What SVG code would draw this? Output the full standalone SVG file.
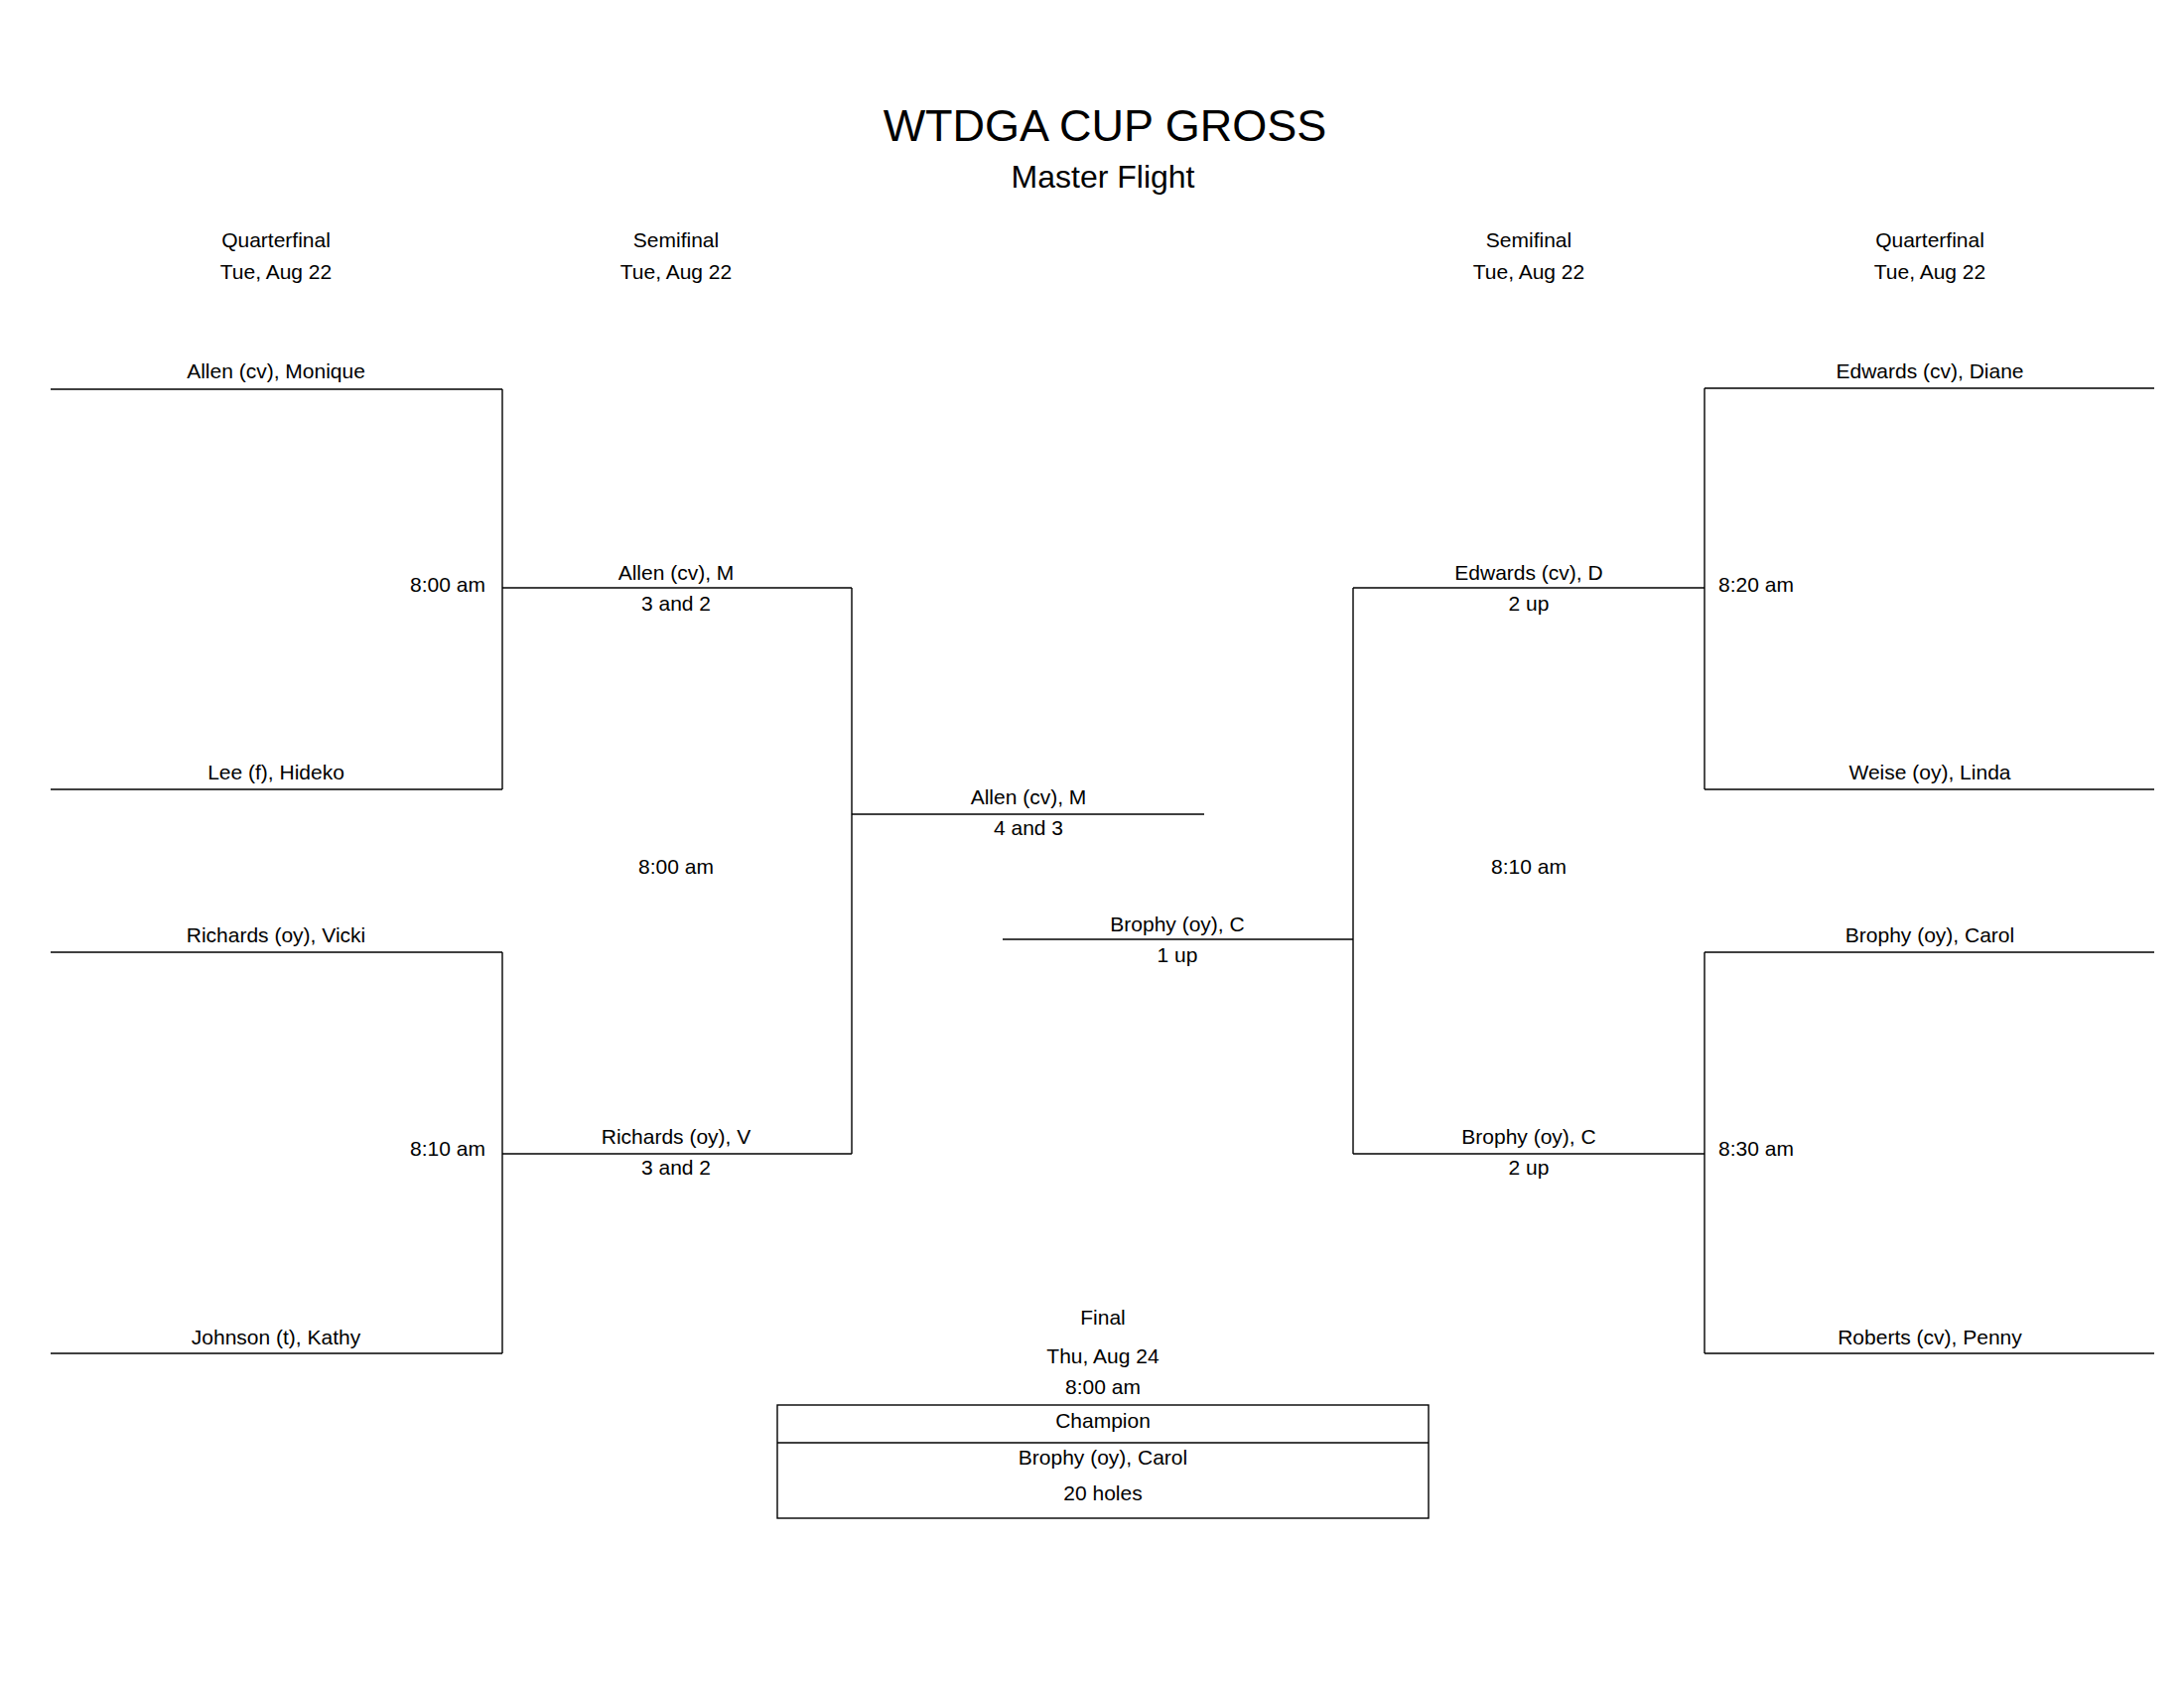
<svg xmlns="http://www.w3.org/2000/svg" width="2200" height="1700" viewBox="0 0 2200 1700">
<style>
text{font-family:"Liberation Sans",Arial,sans-serif;font-size:21px;fill:#000;text-anchor:middle}
.e{text-anchor:end}.s{text-anchor:start}
line,rect{stroke:#000;stroke-width:1.4;fill:none}
</style>
<rect width="2200" height="1700" fill="#fff" style="stroke:none"/>
<text x="1113" y="142" style="font-size:45px">WTDGA CUP GROSS</text>
<text x="1111" y="189" style="font-size:32px">Master Flight</text>
<g id="headers">
<text x="278" y="249">Quarterfinal</text><text x="278" y="281">Tue, Aug 22</text>
<text x="681" y="249">Semifinal</text><text x="681" y="281">Tue, Aug 22</text>
<text x="1540" y="249">Semifinal</text><text x="1540" y="281">Tue, Aug 22</text>
<text x="1944" y="249">Quarterfinal</text><text x="1944" y="281">Tue, Aug 22</text>
</g>
<g id="connectors">
<line x1="51" y1="392" x2="506" y2="392"/><line x1="51" y1="795" x2="506" y2="795"/><line x1="506" y1="392" x2="506" y2="795"/>
<line x1="51" y1="959" x2="506" y2="959"/><line x1="51" y1="1363" x2="506" y2="1363"/><line x1="506" y1="959" x2="506" y2="1363"/>
<line x1="506" y1="592" x2="858" y2="592"/><line x1="506" y1="1162" x2="858" y2="1162"/><line x1="858" y1="592" x2="858" y2="1162"/>
<line x1="858" y1="820" x2="1213" y2="820"/>
<line x1="1010" y1="946" x2="1363" y2="946"/>
<line x1="1363" y1="592" x2="1717" y2="592"/><line x1="1363" y1="1162" x2="1717" y2="1162"/><line x1="1363" y1="592" x2="1363" y2="1162"/>
<line x1="1717" y1="391" x2="2170" y2="391"/><line x1="1717" y1="795" x2="2170" y2="795"/><line x1="1717" y1="391" x2="1717" y2="795"/>
<line x1="1717" y1="959" x2="2170" y2="959"/><line x1="1717" y1="1363" x2="2170" y2="1363"/><line x1="1717" y1="959" x2="1717" y2="1363"/>
</g>
<g id="left">
<text x="278" y="381">Allen (cv), Monique</text>
<text class="e" x="489" y="596">8:00 am</text>
<text x="278" y="785">Lee (f), Hideko</text>
<text x="278" y="949">Richards (oy), Vicki</text>
<text class="e" x="489" y="1164">8:10 am</text>
<text x="278" y="1354">Johnson (t), Kathy</text>
<text x="681" y="584">Allen (cv), M</text><text x="681" y="615">3 and 2</text>
<text x="681" y="880">8:00 am</text>
<text x="681" y="1152">Richards (oy), V</text><text x="681" y="1183">3 and 2</text>
<text x="1036" y="810">Allen (cv), M</text><text x="1036" y="841">4 and 3</text>
</g>
<g id="right">
<text x="1944" y="381">Edwards (cv), Diane</text>
<text class="s" x="1731" y="596">8:20 am</text>
<text x="1944" y="785">Weise (oy), Linda</text>
<text x="1944" y="949">Brophy (oy), Carol</text>
<text class="s" x="1731" y="1164">8:30 am</text>
<text x="1944" y="1354">Roberts (cv), Penny</text>
<text x="1540" y="584">Edwards (cv), D</text><text x="1540" y="615">2 up</text>
<text x="1540" y="880">8:10 am</text>
<text x="1540" y="1152">Brophy (oy), C</text><text x="1540" y="1183">2 up</text>
<text x="1186" y="938">Brophy (oy), C</text><text x="1186" y="969">1 up</text>
</g>
<g id="final">
<text x="1111" y="1334">Final</text>
<text x="1111" y="1373">Thu, Aug 24</text>
<text x="1111" y="1404">8:00 am</text>
<rect x="783" y="1415" width="656" height="114"/>
<line x1="783" y1="1453" x2="1439" y2="1453"/>
<text x="1111" y="1438">Champion</text>
<text x="1111" y="1475">Brophy (oy), Carol</text>
<text x="1111" y="1511">20 holes</text>
</g>
</svg>
